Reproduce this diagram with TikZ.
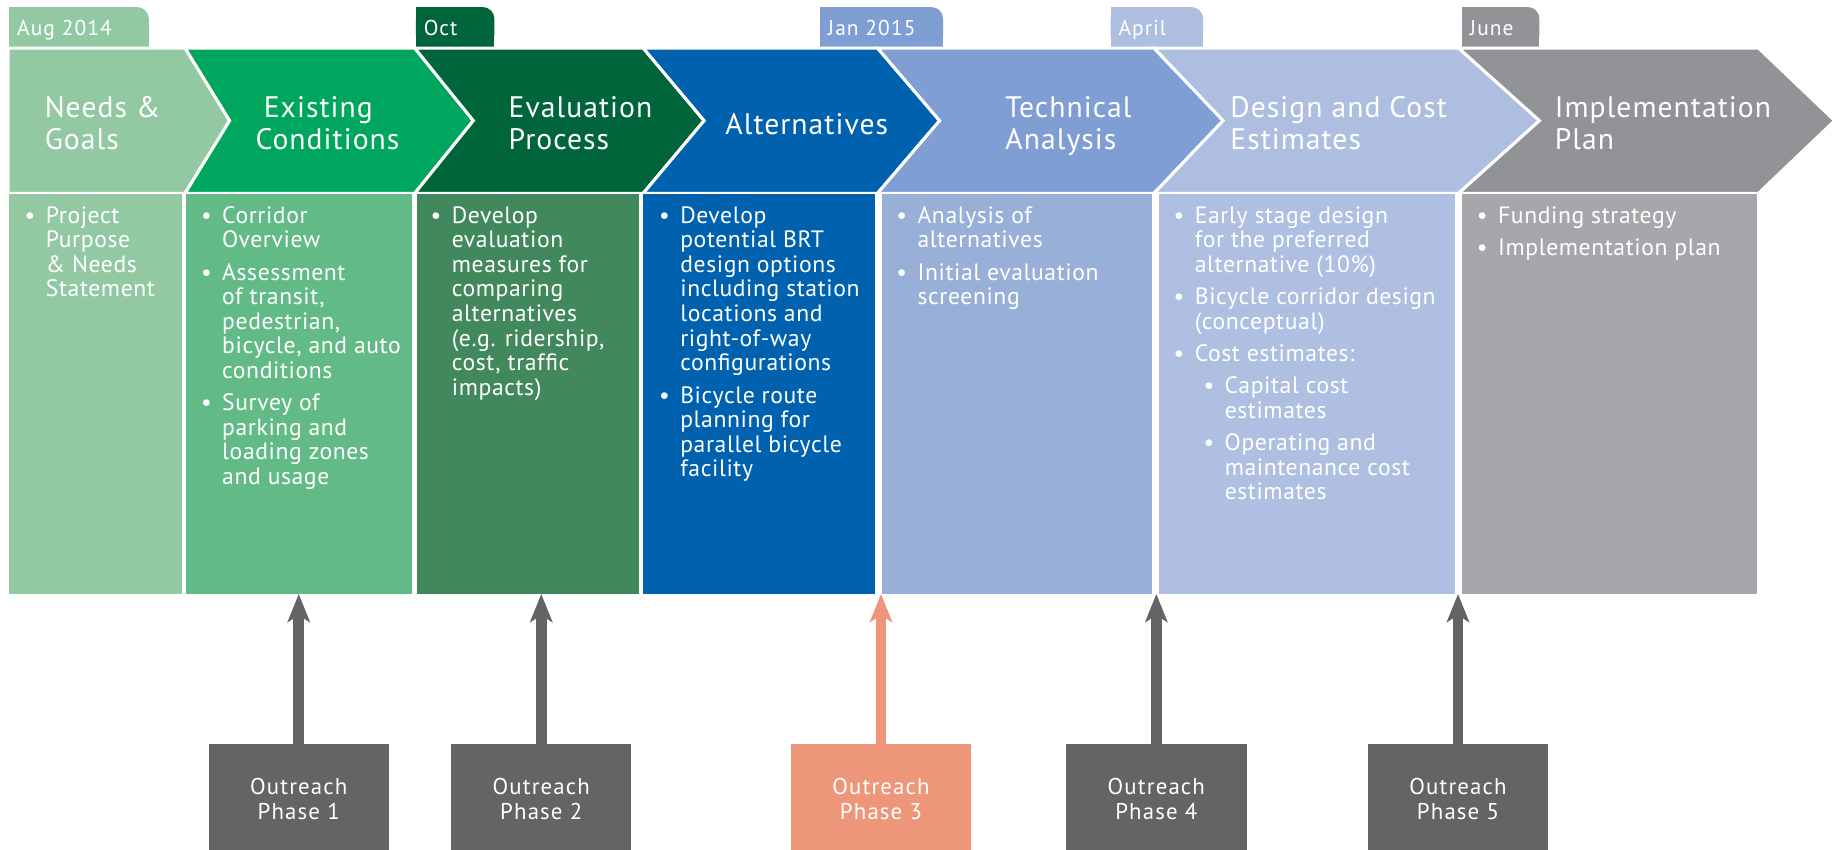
\documentclass[tikz,border=0pt]{standalone}
\usepackage{fontspec}
\setmainfont{PT Sans}
\newfontfamily\hdfont[LetterSpace=3.5]{PT Sans}
\newfontfamily\bdfont[LetterSpace=2.5]{PT Sans}
\newfontfamily\tbfont[LetterSpace=5]{PT Sans}
\newfontfamily\obfont[LetterSpace=5]{PT Sans}
\usetikzlibrary{arrows.meta}
\definecolor{chA}{HTML}{93C9A2}
\definecolor{chB}{HTML}{00A65D}
\definecolor{chC}{HTML}{00653A}
\definecolor{chD}{HTML}{0061AE}
\definecolor{chE}{HTML}{7F9ED3}
\definecolor{chF}{HTML}{ADBEE1}
\definecolor{chG}{HTML}{929397}
\definecolor{coA}{HTML}{93C9A2}
\definecolor{coB}{HTML}{62BA87}
\definecolor{coC}{HTML}{42885D}
\definecolor{coD}{HTML}{0061AE}
\definecolor{coE}{HTML}{98AFD8}
\definecolor{coF}{HTML}{AEBFE2}
\definecolor{coG}{HTML}{A6A7AA}
\definecolor{outgray}{HTML}{636466}
\definecolor{outorange}{HTML}{EE967A}
\newcommand\bul{\llap{\textbullet\hspace{9pt}}}
\newcommand\subind{\hspace*{25.5pt}}
\newcommand\tabshape[5]{%
  \fill[#3, rounded corners=10pt] (#1,6) rectangle (#2,40);
  \fill[#3] (#1,6) rectangle (#2-12,40);
  \fill[#3] (#1,20) rectangle (#2,40);
  \node[tabtxt] (#5) at (#1+6.5,30.5) {#4};
}
\tikzset{
  chev/.style={draw=white, line width=2.6pt, line join=miter},
  colbox/.style={inner sep=0pt, outer sep=0pt, draw=none},
  hd/.style={anchor=north west, inner sep=0pt, align=left, text=white,
    font=\hdfont\fontsize{25.3}{26.6}\selectfont, execute at begin node={\rule{0pt}{20pt}}},
  bd/.style={anchor=north west, inner sep=0pt, align=left, text=white,
    font=\bdfont\fontsize{20.2}{21}\selectfont, execute at begin node={\rule{0pt}{18pt}}},
  tabtxt/.style={anchor=base west, inner sep=0pt, text=white, font=\tbfont\fontsize{18.3}{20}\selectfont},
  outbox/.style={inner sep=0pt, outer sep=0pt, minimum width=154pt, minimum height=94pt,
    align=center, text=white, font=\obfont\fontsize{19.5}{21}\selectfont},
  upar/.style={line width=9pt, -{Stealth[length=24pt,width=19pt,inset=6pt]}}
}
\begin{document}
\begin{tikzpicture}[x=1pt,y=-1pt]
\useasboundingbox (0,0) rectangle (1568,725);
% tabs
\tabshape{8}{127}{chA}{Aug 2014}{tA}
\tabshape{355}{422}{chC}{Oct}{tB}
\tabshape{700}{805}{chE}{Jan 2015}{tC}
\tabshape{948}{1027}{chF}{April}{tD}
\tabshape{1248}{1314}{chG}{June}{tE}
% chevrons
\fill[chA, chev] (7,41) -- (158,41) -- (196,103) -- (158,165) -- (7,165) -- cycle;
\fill[chB, chev] (158,41) -- (354,41) -- (404,103) -- (354,165) -- (158,165) -- (196,103) -- cycle;
\fill[chC, chev] (354,41) -- (549,41) -- (601,103) -- (549,165) -- (354,165) -- (404,103) -- cycle;
\fill[chD, chev] (549,41) -- (749,41) -- (802,103) -- (749,165) -- (549,165) -- (601,103) -- cycle;
\fill[chE, chev] (749,41) -- (985,41) -- (1044,103) -- (985,165) -- (749,165) -- (802,103) -- cycle;
\fill[chF, chev] (985,41) -- (1245,41) -- (1314,103) -- (1245,165) -- (985,165) -- (1044,103) -- cycle;
\fill[chG, chev] (1245,41) -- (1501,41) -- (1566,103) -- (1501,165) -- (1245,165) -- (1314,103) -- cycle;
% headers
\node[hd] (h1) at (38,82.5) {Needs \&\\Goals};
\node[hd] (h2) at (218,82.5) {\hspace*{7pt}Existing\\Conditions};
\node[hd] (h3) at (434,82.5) {Evaluation\\Process};
\node[hd, anchor=base west] (h4) at (619,115) {Alternatives};
\node[hd] (h5) at (858,82.5) {Technical\\Analysis};
\node[hd] (h6) at (1050,82.5) {Design and Cost\\Estimates};
\node[hd] (h7) at (1327,82.5) {Implementation\\Plan};
% columns
\node[colbox, fill=coA, minimum width=147pt, minimum height=341pt] (c1) at (81.5,336.5) {};
\node[colbox, fill=coB, minimum width=193pt, minimum height=341pt] (c2) at (255.5,336.5) {};
\node[colbox, fill=coC, minimum width=189pt, minimum height=341pt] (c3) at (450.5,336.5) {};
\node[colbox, fill=coD, minimum width=198pt, minimum height=341pt] (c4) at (648,336.5) {};
\node[colbox, fill=coE, minimum width=230pt, minimum height=341pt] (c5) at (868,336.5) {};
\node[colbox, fill=coF, minimum width=253pt, minimum height=341pt] (c6) at (1115.5,336.5) {};
\node[colbox, fill=coG, minimum width=252pt, minimum height=341pt] (c7) at (1374,336.5) {};
% column texts
\node[bd] (t1) at (39,176) {\bul Project\\Purpose\\\& Needs\\Statement};
\node[bd] (t2) at (189.5,176) {\bul Corridor\\Overview\\[6.5pt]\bul Assessment\\of transit,\\pedestrian,\\bicycle, and auto\\conditions\\[6.5pt]\bul Survey of\\parking and\\loading zones\\and usage};
\node[bd] (t3) at (385.5,176) {\bul Develop\\evaluation\\measures for\\comparing\\alternatives\\(e.g. ridership,\\cost, traffic\\impacts)};
\node[bd] (t4) at (580.5,176) {\bul Develop\\potential BRT\\design options\\including station\\locations and\\right-of-way\\configurations\\[6.5pt]\bul Bicycle route\\planning for\\parallel bicycle\\facility};
\node[bd] (t5) at (783,176) {\bul Analysis of\\alternatives\\[6.5pt]\bul Initial evaluation\\screening};
\node[bd] (t6) at (1019.7,176) {\bul Early stage design\\for the preferred\\alternative (10\%)\\[6.5pt]\bul Bicycle corridor design\\(conceptual)\\[6.5pt]\bul Cost estimates:\\[6.5pt]\subind\bul Capital cost\\\subind estimates\\[6.5pt]\subind\bul Operating and\\\subind maintenance cost\\\subind estimates};
\node[bd] (t7) at (1278.5,176) {\bul Funding strategy\\[6.5pt]\bul Implementation plan};
% outreach boxes
\node[outbox, fill=outgray] (o1) at (255,682) {Outreach\\Phase 1};
\node[outbox, fill=outgray] (o2) at (462,682) {Outreach\\Phase 2};
\node[outbox, fill=outorange] (o3) at (752,682) {Outreach\\Phase 3};
\node[outbox, fill=outgray] (o4) at (987,682) {Outreach\\Phase 4};
\node[outbox, fill=outgray] (o5) at (1244.5,682) {Outreach\\Phase 5};
% arrows
\draw[upar, outgray] (o1.north) -- (o1.north |- c2.south);
\draw[upar, outgray] (o2.north) -- (o2.north |- c3.south);
\draw[upar, outorange] (o3.north) -- (o3.north |- c4.south);
\draw[upar, outgray] (o4.north) -- (o4.north |- c5.south);
\draw[upar, outgray] (o5.north) -- (o5.north |- c6.south);
\end{tikzpicture}
\end{document}
